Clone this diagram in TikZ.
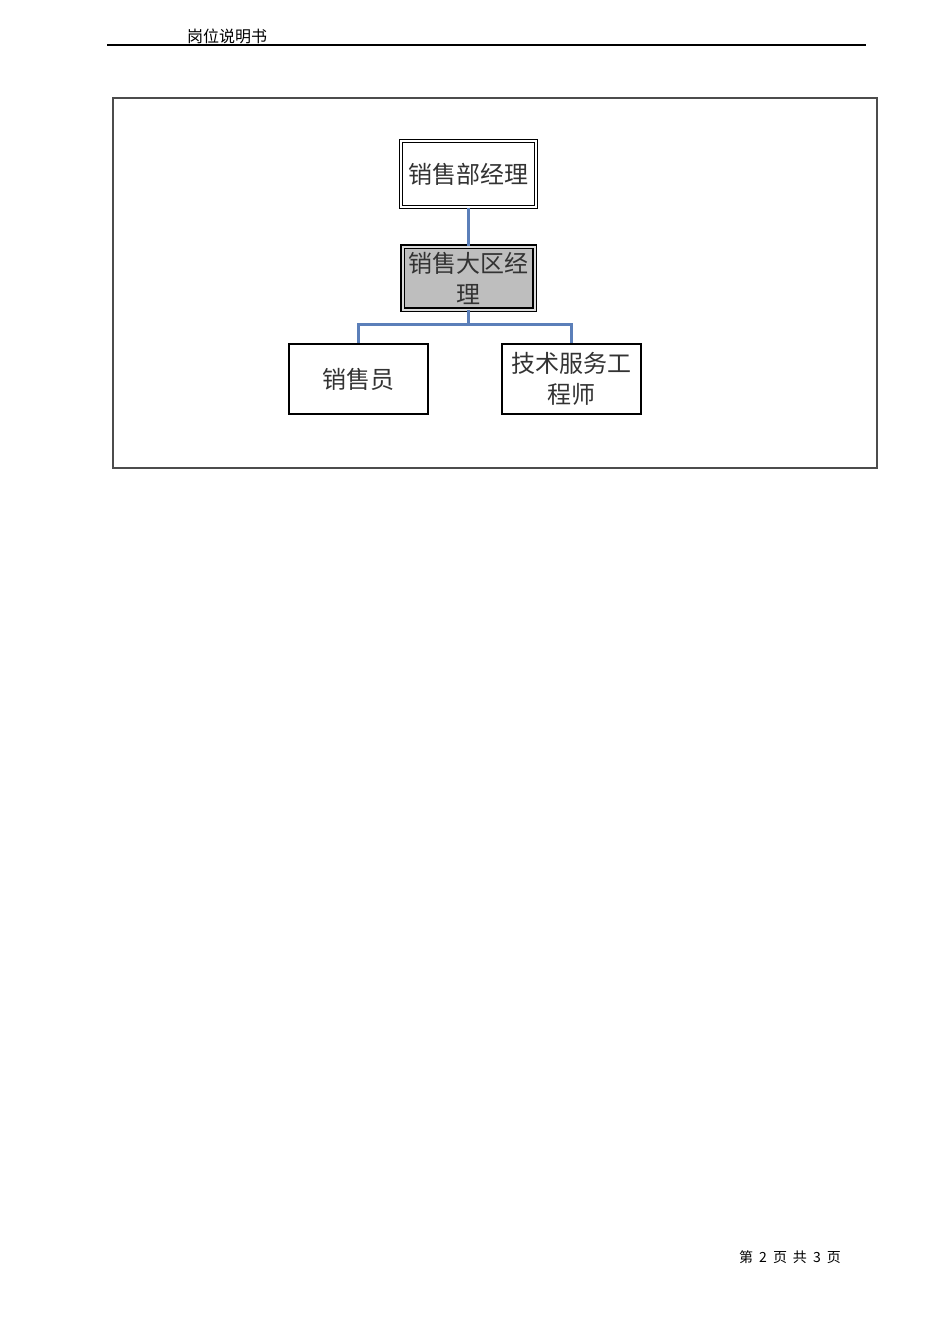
\documentclass[tikz,border=0pt]{standalone}
\usepackage{fontspec}
\newfontfamily\cjk{Noto Sans CJK SC}
\usepackage{xcolor}
\usetikzlibrary{positioning}
\definecolor{link-blue}{HTML}{5B7FB9}
\definecolor{box-gray}{HTML}{BEBEBE}
\tikzset{
    post-box/.style = {draw=black, fill=white, line width=1.2pt, rectangle, minimum width=139pt, minimum height=70pt, inner sep=2pt, align=center, text=black!80, font=\cjk\fontsize{24}{31}\selectfont},
    post-box-double/.style = {post-box, line width=1pt, double=white, double distance=2pt, minimum width=135pt, minimum height=66pt},
    post-box-dark/.style = {post-box, fill=box-gray, line width=1.8pt, double=box-gray!55, double distance=2pt, minimum width=132pt, minimum height=63pt},
    post-link/.style = {draw=link-blue, line width=2.4pt},
}

\begin{document}
\begin{tikzpicture}[x=1pt, y=-1pt]
\useasboundingbox (0,0) rectangle (950,1344);
% header and footer
\node[font=\cjk\fontsize{16}{19}\selectfont] (head) at (227,36) {岗位说明书};
\draw[line width=1.4pt] (107,45) -- (866,45);
\node[font=\cjk\fontsize{14}{17}\selectfont] (foot) at (790,1257) {第\hspace{6pt}2\hspace{6pt}页\hspace{6pt}共\hspace{6pt}3\hspace{6pt}页};
% frame
\draw[draw=black!70, line width=1.3pt] (113,98) rectangle (877,468);
% chart
\node [post-box-double] (manager) at (468.5,174) {销售部经理};
\node [post-box-dark] (region) at (468.5,278) {销售大区经\\理};
\node [post-box] (sales) at (358.5,379) {销售员};
\node [post-box] (tech) at (571.5,379) {技术服务工\\程师};
\draw[post-link] (manager.south) -- (region.north);
\draw[post-link] (region.south) -- ++(0,14) coordinate (split) -| (sales.north);
\draw[post-link] (split) -| (tech.north);
\end{tikzpicture}
\end{document}
